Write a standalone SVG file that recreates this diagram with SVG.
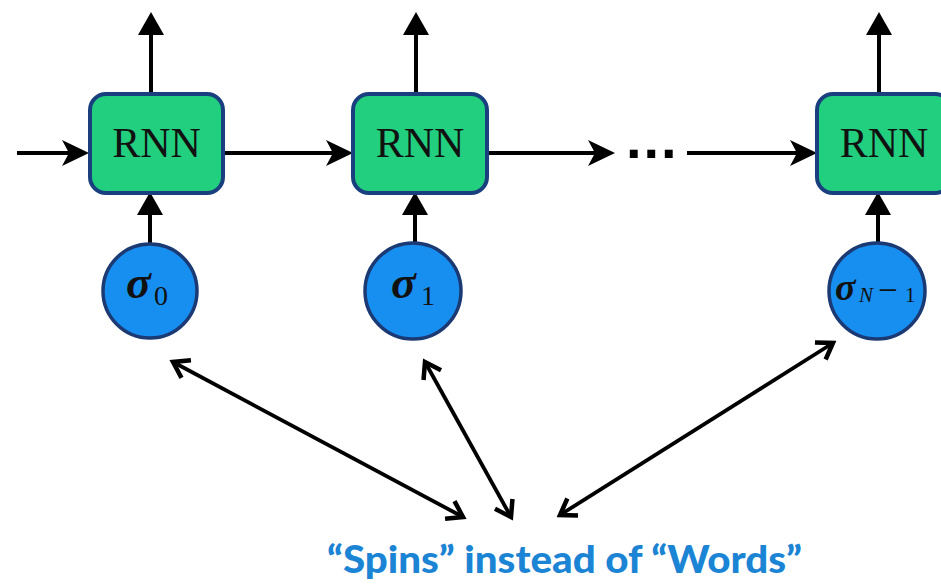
<svg xmlns="http://www.w3.org/2000/svg" width="941" height="584" viewBox="0 0 941 584">
  <style>
    .cell { fill: #22cf7e; stroke: #193f7e; stroke-width: 4; }
    .cell-label { font-family: "Liberation Serif", "DejaVu Serif", serif; font-size: 42px; fill: #111; text-anchor: middle; }
    .spin { fill: #168ff0; stroke: #1b3a74; stroke-width: 3.5; }
    .sig { font-family: "Liberation Serif", "DejaVu Serif", serif; font-weight: bold; font-style: italic; fill: #111; }
    .sub { font-family: "Liberation Serif", "DejaVu Serif", serif; fill: #111; }
    .flow { stroke: #000; stroke-width: 4; fill: none; }
    .link { stroke: #000; stroke-width: 3.8; fill: none; marker-start: url(#chev); marker-end: url(#chev); }
    .caption { font-family: Lato, "Liberation Sans", sans-serif; font-weight: 900; font-size: 38px; fill: #1b84d4; }
  </style>
  <defs>
    <!-- solid triangular head for vertical flows -->
    <marker id="tri" viewBox="-2 -15 28 30" refX="0" refY="0" markerWidth="28" markerHeight="30" markerUnits="userSpaceOnUse" orient="auto">
      <path d="M23,0 L0,-13 L0,13 Z" fill="#000"/>
    </marker>
    <!-- concave head for the recurrent chain -->
    <marker id="stealth" viewBox="-8 -15 32 30" refX="0" refY="0" markerWidth="32" markerHeight="30" markerUnits="userSpaceOnUse" orient="auto">
      <path d="M20,0 L-7,-13 L0,0 L-7,13 Z" fill="#000"/>
    </marker>
    <!-- open chevron for the double-headed pointers -->
    <marker id="chev" viewBox="-22 -14 26 28" refX="0" refY="0" markerWidth="26" markerHeight="28" markerUnits="userSpaceOnUse" orient="auto-start-reverse">
      <path d="M-15,-10 L0,0 L-15,10" fill="none" stroke="#000" stroke-width="4.5" stroke-linejoin="miter"/>
    </marker>
  </defs>

  <rect width="941" height="584" fill="#ffffff"/>

  <g id="connectors">
    <!-- outputs -->
    <line class="flow" x1="151" y1="94" x2="151" y2="35" marker-end="url(#tri)"/>
    <line class="flow" x1="416" y1="94" x2="416" y2="35" marker-end="url(#tri)"/>
    <line class="flow" x1="879" y1="94" x2="879" y2="35" marker-end="url(#tri)"/>
    <!-- inputs -->
    <line class="flow" x1="150" y1="245" x2="150" y2="215" marker-end="url(#tri)"/>
    <line class="flow" x1="415" y1="245" x2="415" y2="215" marker-end="url(#tri)"/>
    <line class="flow" x1="878" y1="245" x2="878" y2="215" marker-end="url(#tri)"/>
    <!-- hidden state chain -->
    <line class="flow" x1="17" y1="153" x2="69" y2="153" marker-end="url(#stealth)"/>
    <line class="flow" x1="225" y1="153" x2="333" y2="153" marker-end="url(#stealth)"/>
    <line class="flow" x1="489" y1="153" x2="595" y2="153" marker-end="url(#stealth)"/>
    <line class="flow" x1="687" y1="153" x2="797" y2="153" marker-end="url(#stealth)"/>
    <!-- pointers to the caption -->
    <line class="link" x1="173" y1="362" x2="463" y2="517"/>
    <line class="link" x1="425" y1="362" x2="511" y2="517"/>
    <line class="link" x1="833" y1="343" x2="560" y2="515"/>
  </g>

  <g id="ellipsis">
    <text x="626" y="158" font-family="Liberation Sans, Arial, sans-serif" font-weight="bold" font-size="56" letter-spacing="2" fill="#000">...</text>
  </g>

  <g id="rnn0">
    <rect class="cell" x="90" y="94" width="133" height="99" rx="16"/>
    <text class="cell-label" x="156.5" y="157">RNN</text>
  </g>
  <g id="rnn1">
    <rect class="cell" x="353" y="94" width="134" height="99" rx="16"/>
    <text class="cell-label" x="420" y="157">RNN</text>
  </g>
  <g id="rnnN">
    <rect class="cell" x="817" y="94" width="134" height="99" rx="16"/>
    <text class="cell-label" x="884" y="157">RNN</text>
  </g>

  <g id="spin0">
    <circle class="spin" cx="150" cy="291" r="47"/>
    <text class="sig" x="126" y="298" font-size="46">σ</text>
    <text class="sub" x="154" y="305" font-size="28">0</text>
  </g>
  <g id="spin1">
    <circle class="spin" cx="413" cy="291" r="48"/>
    <text class="sig" x="391" y="298" font-size="46">σ</text>
    <text class="sub" x="421" y="305" font-size="28">1</text>
  </g>
  <g id="spinN">
    <circle class="spin" cx="877" cy="291" r="48"/>
    <text class="sig" x="835" y="300" font-size="38">σ</text>
    <text class="sub" y="302" font-size="21"><tspan x="859" font-style="italic">N</tspan><tspan x="878" font-size="35">−</tspan><tspan x="905">1</tspan></text>
  </g>

  <g id="caption">
    <text class="caption" x="327" y="573" textLength="475" lengthAdjust="spacingAndGlyphs">“Spins” instead of “Words”</text>
  </g>
</svg>
